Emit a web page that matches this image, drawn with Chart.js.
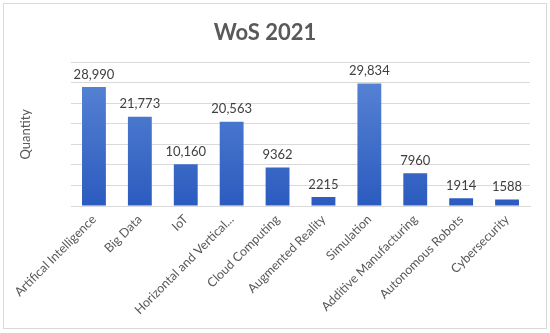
<!DOCTYPE html>
<html>
<head>
<meta charset="utf-8">
<script src="https://cdn.jsdelivr.net/npm/chart.js@4/dist/chart.umd.min.js"></script>
<style>
  html, body { margin: 0; padding: 0; background: #fff; }
  #wrap { position: relative; width: 550px; height: 333px; }
  #frame { position: absolute; left: 3px; top: 3px; width: 542px; height: 324px; border: 1px solid #d9d9d9; pointer-events: none; }
  canvas { display: block; }
</style>
</head>
<body>
<div id="wrap">
  <canvas id="c" width="550" height="333"></canvas>
  <div id="frame"></div>
</div>
<script>
const categories = ["Artifical Intelligence", "Big Data", "IoT", "Horizontal and Vertical...", "Cloud Computing", "Augmented Reality", "Simulation", "Additive Manufacturing", "Autonomous Robots", "Cybersecurity"];
const quantities = [28990, 21773, 10160, 20563, 9362, 2215, 29834, 7960, 1914, 1588];
const valueLabels = ["28,990", "21,773", "10,160", "20,563", "9362", "2215", "29,834", "7960", "1914", "1588"];
const chartTitle = "WoS 2021";
const yAxisTitle = "Quantity";

const FONT = "Lato, 'Open Sans', sans-serif";

const valueLabelPlugin = {
  id: 'valueLabels',
  afterDatasetsDraw(chart) {
    const ctx = chart.ctx;
    const meta = chart.getDatasetMeta(0);
    ctx.save();
    ctx.font = "13px " + FONT;
    ctx.fillStyle = "#404040";
    ctx.textAlign = "center";
    ctx.textBaseline = "bottom";
    meta.data.forEach((bar, i) => {
      ctx.fillText(valueLabels[i], bar.x, bar.y - 6);
    });
    ctx.restore();
  }
};

const ctx = document.getElementById('c').getContext('2d');
new Chart(ctx, {
  type: 'bar',
  data: {
    labels: categories,
    datasets: [{
      data: quantities,
      backgroundColor: (c) => {
        const area = c.chart.chartArea;
        if (!area) return '#4472c4';
        const g = c.chart.ctx.createLinearGradient(0, area.top, 0, area.bottom);
        g.addColorStop(0, '#5c88d6');
        g.addColorStop(1, '#2b5bbf');
        return g;
      },
      borderWidth: 0,
      barPercentage: 0.52,
      categoryPercentage: 1.0
    }]
  },
  options: {
    responsive: false,
    animation: false,
    devicePixelRatio: 1,
    layout: { padding: { left: 0, right: 20, top: 0, bottom: 0 } },
    plugins: {
      legend: { display: false },
      tooltip: { enabled: false },
      title: {
        display: true,
        text: chartTitle,
        color: '#595959',
        font: { family: FONT, size: 22, weight: 'bold', lineHeight: 1.2 },
        padding: { top: 20, bottom: 16 }
      }
    },
    scales: {
      x: {
        grid: { display: false, drawTicks: false },
        border: { display: true, color: '#d9d9d9', width: 1 },
        ticks: {
          color: '#595959',
          font: { family: FONT, size: 12.5 },
          minRotation: 45,
          maxRotation: 45,
          autoSkip: false,
          padding: 6
        },
        afterFit(scale) { scale.height = 127; }
      },
      y: {
        min: 0,
        max: 35000,
        ticks: { display: false, stepSize: 5000 },
        grid: { color: '#d9d9d9', lineWidth: 1, drawTicks: false },
        border: { display: false },
        title: {
          display: true,
          text: yAxisTitle,
          color: '#595959',
          font: { family: FONT, size: 13 },
          padding: { top: 18, bottom: 0 }
        },
        afterFit(scale) { scale.width = 71; }
      }
    }
  },
  plugins: [valueLabelPlugin]
});
</script>
</body>
</html>
